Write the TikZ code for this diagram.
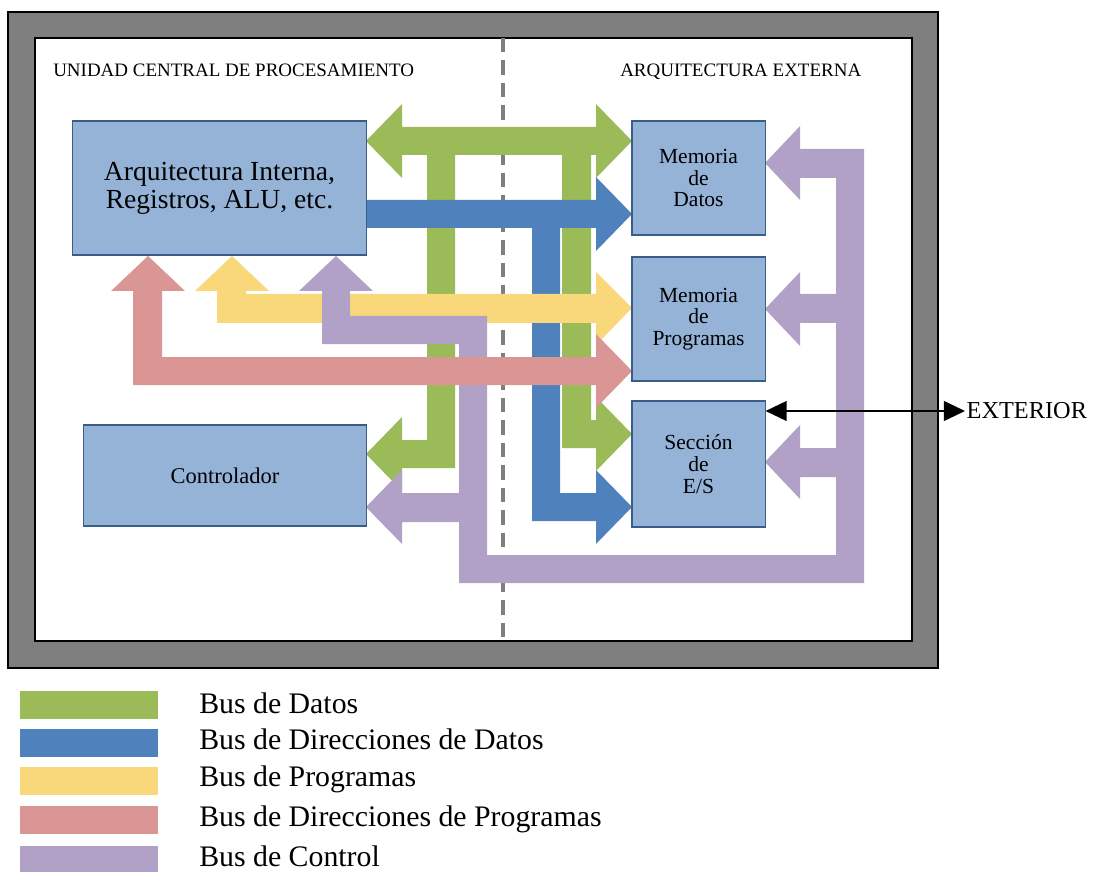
\documentclass[tikz,border=0pt]{standalone}
\usepackage{fontspec}
\setmainfont{Liberation Serif}
\usetikzlibrary{arrows.meta}
\definecolor{gris}{HTML}{7F7F7F}
\definecolor{verde}{HTML}{9BBB59}
\definecolor{azul}{HTML}{4F81BD}
\definecolor{amarillo}{HTML}{F9D87B}
\definecolor{rosa}{HTML}{D99694}
\definecolor{morado}{HTML}{B2A1C7}
\definecolor{azulcaja}{HTML}{95B3D7}
\definecolor{bordecaja}{HTML}{385D8A}
\begin{document}
\begin{tikzpicture}[x=0.025cm, y=-0.025cm,
    caja/.style={draw=bordecaja, fill=azulcaja, line width=0.75pt, inner sep=0pt,
        align=center, font=\fontsize{15.3}{15.5}\selectfont},
    bus/.style={fill=#1},
    titulo/.style={anchor=base west, inner sep=0pt, font=\fontsize{13.5}{16}\selectfont}]
    \useasboundingbox (0,0) rectangle (1096,872);
    % Marco
    \draw[line width=1.5pt, fill=gris] (8,12) rectangle (938,668);
    \draw[line width=1.5pt, fill=white] (35,38) rectangle (912,641);
    \draw[gris, line width=2.2pt, dash pattern=on 10pt off 6pt] (503,38) -- (503,641);
    \node[titulo] (cpu) at (53,77) {UNIDAD CENTRAL DE PROCESAMIENTO};
    \node[titulo] (externa) at (620,77) {ARQUITECTURA EXTERNA};
    % Bus de datos
    \fill[bus=verde] (366,141) -- (402,104) -- (402,127) -- (596,127) -- (596,104) -- (632,141)
        -- (596,178) -- (596,155) -- (402,155) -- (402,178) -- cycle;
    \fill[bus=verde] (427,150) -- (455,150) -- (455,468) -- (402,468) -- (402,491) -- (366,454)
        -- (402,417) -- (402,440) -- (427,440) -- cycle;
    \fill[bus=verde] (562,150) -- (591,150) -- (591,420) -- (596,420) -- (596,397) -- (632,434)
        -- (596,471) -- (596,448) -- (562,448) -- cycle;
    % Bus de direcciones de datos
    \fill[bus=azul] (366,200) -- (596,200) -- (596,177) -- (632,214) -- (596,251) -- (596,228)
        -- (560,228) -- (560,493) -- (596,493) -- (596,470) -- (632,507) -- (596,544) -- (596,521)
        -- (532,521) -- (532,228) -- (366,228) -- cycle;
    % Bus de programas
    \fill[bus=amarillo] (232,256) -- (269,291) -- (246,291) -- (246,294) -- (596,294) -- (596,272)
        -- (632,308) -- (596,345) -- (596,323) -- (217,323) -- (217,291) -- (195,291) -- cycle;
    % Bus de control
    \fill[bus=morado] (336,256) -- (373,291) -- (350,291) -- (350,316) -- (487,316) -- (487,555)
        -- (836,555) -- (836,178) -- (800,178) -- (800,200) -- (765,163) -- (800,126) -- (800,149)
        -- (864,149) -- (864,583) -- (459,583) -- (459,344) -- (322,344) -- (322,291) -- (299,291) -- cycle;
    \fill[bus=morado] (462,493) -- (402,493) -- (402,470) -- (366,507) -- (402,544) -- (402,522)
        -- (462,522) -- cycle;
    \fill[bus=morado] (839,294) -- (800,294) -- (800,272) -- (765,309) -- (800,346) -- (800,323)
        -- (839,323) -- cycle;
    \fill[bus=morado] (839,448) -- (800,448) -- (800,425) -- (765,462) -- (800,499) -- (800,477)
        -- (839,477) -- cycle;
    % Bus de direcciones de programas
    \fill[bus=rosa] (148,256) -- (185,291) -- (162,291) -- (162,357) -- (596,357) -- (596,334)
        -- (632,371) -- (596,408) -- (596,385) -- (133,385) -- (133,291) -- (111,291) -- cycle;
    % Bloques
    \node[caja, minimum width=7.325cm, minimum height=3.35cm, font=\fontsize{19.6}{20}\selectfont]
        (arq) at (219.5,188) {Arquitectura Interna,\\ Registros, ALU, etc.};
    \node[caja, minimum width=7.05cm, minimum height=2.525cm, font=\fontsize{16}{16}\selectfont]
        (ctrl) at (225,475.5) {Controlador};
    \node[caja, minimum width=3.325cm, minimum height=2.85cm] (mdat) at (698.5,178) {Memoria\\ de\\ Datos};
    \node[caja, minimum width=3.325cm, minimum height=3.1cm] (mprog) at (698.5,319) {Memoria\\ de\\ Programas};
    \node[caja, minimum width=3.325cm, minimum height=3.15cm] (es) at (698.5,464) {Sección\\ de\\ E/S};
    % Exterior
    \coordinate (extp) at (965,411);
    \node[anchor=west, inner sep=1pt, font=\fontsize{17.3}{17}\selectfont] (exterior) at (extp) {EXTERIOR};
    \draw[{Triangle[length=15pt,width=14pt]}-{Triangle[length=15pt,width=14pt]}, line width=1.5pt]
        (es.east |- extp) -- (extp);
    % Leyenda
    \foreach \i/\col/\ya/\base/\txt in {1/verde/691/713/Bus de Datos,
            2/azul/729/749/Bus de Direcciones de Datos,
            3/amarillo/767/786/Bus de Programas,
            4/rosa/806/826/Bus de Direcciones de Programas,
            5/morado/846/866/Bus de Control} {
        \fill[\col] (20,\ya) rectangle (158,\ya+28);
        \node[anchor=base west, inner sep=0pt, font=\fontsize{21.2}{22}\selectfont] (ley\i) at (199,\base) {\txt};
    }
\end{tikzpicture}
\end{document}
